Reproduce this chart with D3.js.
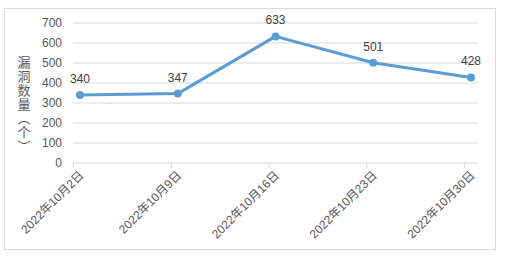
<!DOCTYPE html>
<html>
<head>
<meta charset="utf-8">
<script src="https://cdn.jsdelivr.net/npm/d3@7"></script>
<style>
    body { margin: 0; background: #fff; }
    text { font-family: "Liberation Sans", "Noto Sans CJK SC", sans-serif; }
    .rotulo { font-size: 12px; fill: #404040; text-anchor: middle; }
    .tituloeixo { font-size: 13px; fill: #595959; }
    #eixoY text, #eixoX text { font-size: 12px; fill: #595959; }
</style>
</head>
<body>
<svg id="grafico"></svg>
<script>
//Dados do gráfico
var categorias = ['2022年10月2日', '2022年10月9日', '2022年10月16日', '2022年10月23日', '2022年10月30日'];
var datas = ['2022-10-02', '2022-10-09', '2022-10-16', '2022-10-23', '2022-10-30'];
var valores = [340, 347, 633, 501, 428];
var ticksY = [0, 100, 200, 300, 400, 500, 600, 700];

var largura = 508, altura = 260;
var svg = d3.select('#grafico')
            .attr('width', largura)
            .attr('height', altura);

//Moldura do gráfico
svg.append('rect')
    .attr('x', 4.5)
    .attr('y', 8.5)
    .attr('width', 491)
    .attr('height', 241)
    .attr('fill', '#fff')
    .attr('stroke', '#d9d9d9');

//Margens da área de plotagem
var margem = { esquerda: 73, direita: 30, superior: 23, inferior: 97 };
var larguraPlotagem = largura - margem.esquerda - margem.direita;
var alturaPlotagem = altura - margem.superior - margem.inferior;

var plotagem = svg.append('g')
                .attr('transform', 'translate(' + margem.esquerda + ',' + margem.superior + ')');

//Escalas (eixo de datas, pontos no meio do dia)
var converteData = d3.timeParse('%Y-%m-%d');
var meioDia = 12 * 3600 * 1000;
var inicio = new Date(converteData(datas[0]).getTime() - meioDia);
var fim = new Date(converteData(datas[datas.length - 1]).getTime() + meioDia);

var x = d3.scaleTime()
        .domain([inicio, fim])
        .range([0, larguraPlotagem]);
var y = d3.scaleLinear()
        .domain([0, 700])
        .range([alturaPlotagem, 0]);

//Linhas de grade
plotagem.append('g')
    .attr('id', 'grade')
    .selectAll('line')
    .data(ticksY.slice(1))
    .enter()
    .append('line')
    .attr('x1', 0)
    .attr('x2', larguraPlotagem)
    .attr('y1', d => y(d))
    .attr('y2', d => y(d))
    .attr('stroke', '#d9d9d9')
    .attr('stroke-width', 1);

//Eixo X
var posicoesX = datas.map(d => new Date(converteData(d).getTime() - meioDia));
var eixoX = d3.axisBottom(x)
            .tickValues(posicoesX)
            .tickSize(5)
            .tickFormat((d, i) => categorias[i]);
var gX = plotagem.append('g')
    .attr('id', 'eixoX')
    .attr('transform', 'translate(0,' + alturaPlotagem + ')')
    .call(eixoX);
gX.select('.domain').attr('stroke', '#d9d9d9').attr('d', 'M0.5,0H' + larguraPlotagem);
gX.selectAll('.tick line').attr('stroke', '#d9d9d9');
gX.selectAll('.tick text')
    .attr('text-anchor', 'end')
    .attr('x', 0)
    .attr('y', 0)
    .attr('dy', '0.35em')
    .attr('transform', 'translate(8,10) rotate(-45)');

//Eixo Y
var eixoY = d3.axisLeft(y)
            .tickValues(ticksY)
            .tickSize(0)
            .tickPadding(11);
var gY = plotagem.append('g')
    .attr('id', 'eixoY')
    .call(eixoY);
gY.select('.domain').remove();

//Título do eixo Y (vertical)
svg.append('text')
    .attr('x', 23)
    .attr('y', 56)
    .style('writing-mode', 'vertical-rl')
    .style('letter-spacing', '1px')
    .text('漏洞数量（个）')
    .classed('tituloeixo', true);

//Linha
var linha = d3.line()
            .x((d, i) => x(converteData(datas[i])))
            .y(d => y(d));
plotagem.append('path')
    .datum(valores)
    .attr('d', linha)
    .attr('fill', 'none')
    .attr('stroke', '#5b9bd5')
    .attr('stroke-width', 3)
    .attr('stroke-linejoin', 'round');

//Pontos
plotagem.selectAll('.ponto')
    .data(valores)
    .enter()
    .append('circle')
    .classed('ponto', true)
    .attr('cx', (d, i) => x(converteData(datas[i])))
    .attr('cy', d => y(d))
    .attr('r', 4)
    .attr('fill', '#5b9bd5');

//Rótulos dos dados
plotagem.selectAll('.rotulo')
    .data(valores)
    .enter()
    .append('text')
    .classed('rotulo', true)
    .attr('x', (d, i) => x(converteData(datas[i])))
    .attr('y', d => y(d))
    .attr('dy', -12)
    .text(d => d);
</script>
</body>
</html>
